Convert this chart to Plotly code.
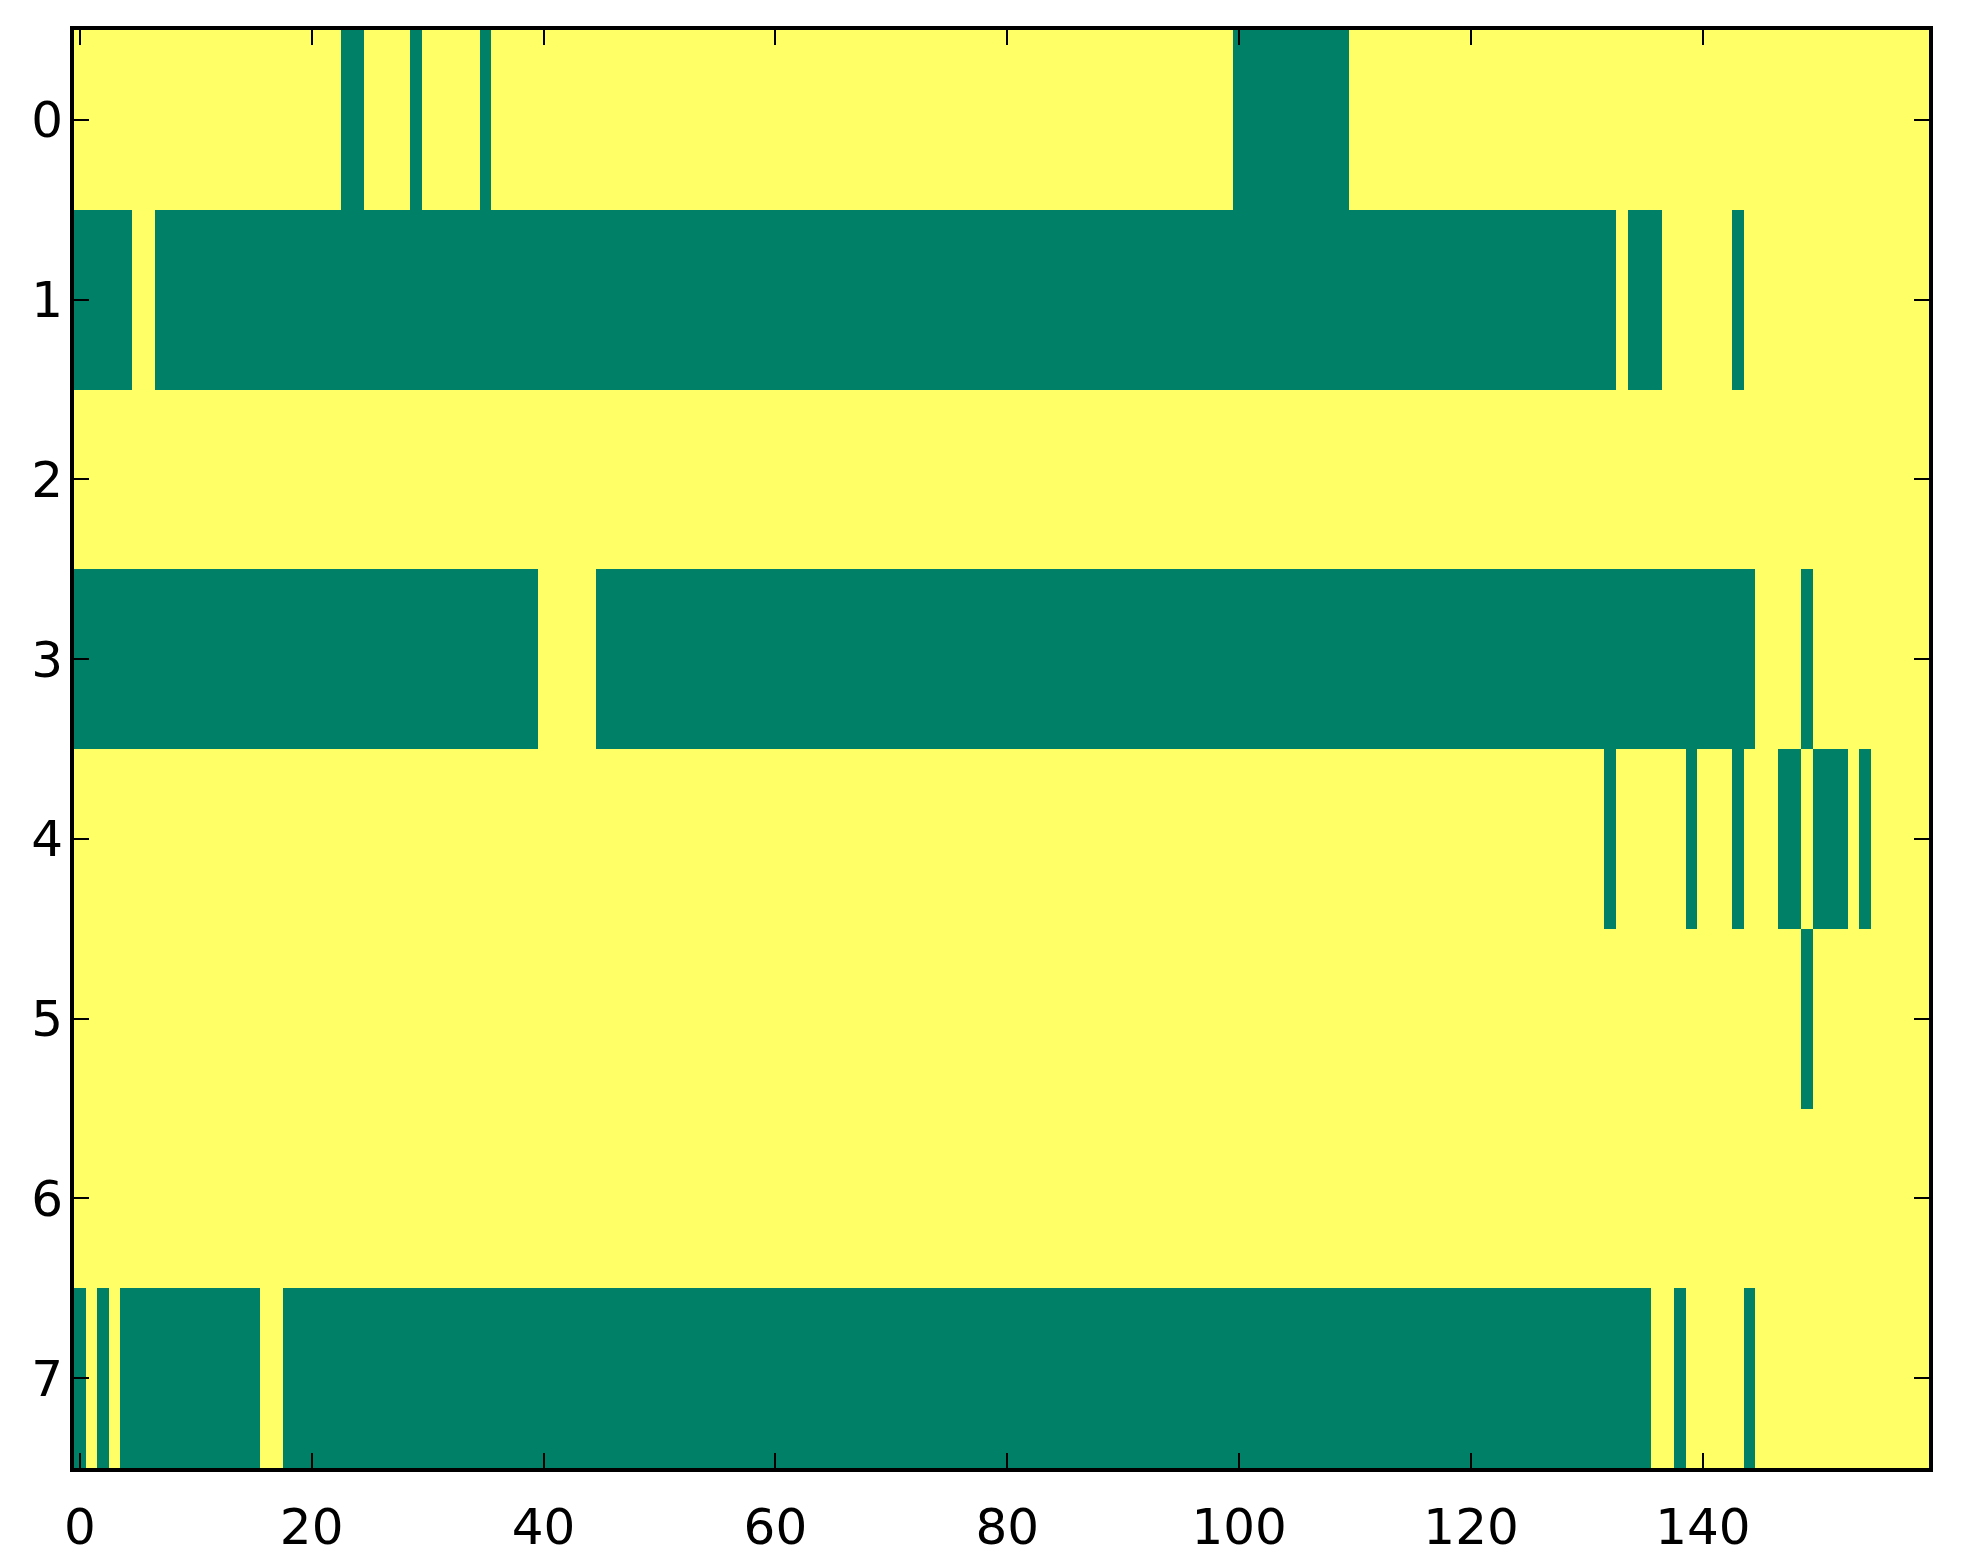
import plotly.graph_objects as go

# green (value 0) runs per row, inclusive column ranges; everything else is 1 (yellow)
n_cols = 160
row_labels = [0, 1, 2, 3, 4, 5, 6, 7]
row0_runs = [(23, 24), (29, 29), (35, 35), (100, 109)]
row1_runs = [(0, 4), (7, 132), (134, 136), (143, 143)]
row2_runs = []
row3_runs = [(0, 39), (45, 144), (149, 149)]
row4_runs = [(132, 132), (139, 139), (143, 143), (147, 148), (150, 152), (154, 154)]
row5_runs = [(149, 149)]
row6_runs = []
row7_runs = [(0, 0), (2, 2), (4, 15), (18, 135), (138, 138), (144, 144)]

x_ticks = [0, 20, 40, 60, 80, 100, 120, 140]


def build_row(runs):
  row = [1] * n_cols
  for a, b in runs:
    for k in range(a, b + 1):
      row[k] = 0
  return row


z = [build_row(r) for r in [row0_runs, row1_runs, row2_runs, row3_runs,
                            row4_runs, row5_runs, row6_runs, row7_runs]]

fig = go.Figure()
fig.add_trace(
  go.Heatmap(
    z=z,
    x=list(range(n_cols)),
    y=row_labels,
    zmin=0, zmax=1,
    colorscale=[[0, '#008066'], [1, '#ffff66']],
    showscale=False,
    hoverinfo='none'
  )
)

axis = dict(
  showgrid=False,
  zeroline=False,
  showline=True,
  linecolor='black',
  linewidth=4,
  mirror='ticks',
  ticks='inside',
  ticklen=15,
  tickwidth=1.5,
  tickcolor='black',
)

fig.update_layout(
  width=1963, height=1564,
  margin=dict(l=66, r=42, t=22, b=104),
  paper_bgcolor='white',
  plot_bgcolor='white',
  font=dict(family='DejaVu Sans', size=50, color='black'),
  xaxis=dict(axis, range=[-0.5, n_cols - 0.5], tickvals=x_ticks, ticklabelstandoff=12),
  yaxis=dict(axis, range=[7.5, -0.5], tickvals=row_labels, ticklabelstandoff=-3),
)

fig.write_html("out.html")
